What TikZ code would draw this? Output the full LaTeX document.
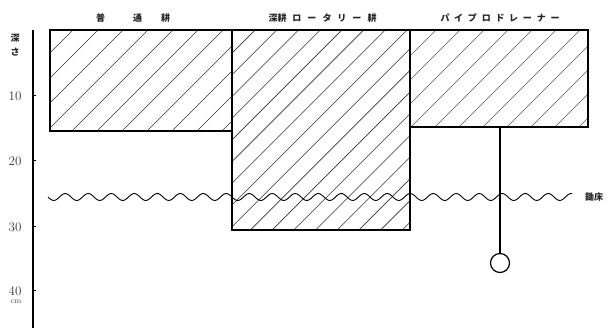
\documentclass[tikz,border=0pt]{standalone}
\usepackage{fontspec}
\newfontfamily\jp{Noto Sans CJK JP}
\begin{document}
\begin{tikzpicture}[x=1pt,y=-1pt,
  boxline/.style={line width=1.3pt},
  hatchline/.style={line width=0.6pt, draw=black!80},
  jplabel/.style={font=\jp\bfseries\fontsize{9}{9}\selectfont, inner sep=0pt, text=black!85},
  numlabel/.style={font=\fontsize{13}{13}\selectfont, inner sep=0pt, text=black!80},
  tick/.style={line width=1pt}]
\useasboundingbox (0,0) rectangle (608,328);
% hatching
\begin{scope}
  \clip (50,30) rectangle (232,131);
  \foreach \c in {3,28,...,1000} \draw[hatchline] (\c,0) -- ({\c-400},400);
\end{scope}
\begin{scope}
  \clip (232,30) rectangle (410,230);
  \foreach \c in {3,24.7,...,1000} \draw[hatchline] (\c,0) -- ({\c-400},400);
\end{scope}
\begin{scope}
  \clip (410,30) rectangle (588,127);
  \foreach \c in {10,34,...,1000} \draw[hatchline, draw=black!65] (\c,0) -- ({\c-400},400);
\end{scope}
% boxes
\draw[boxline] (50,30) rectangle (232,131);
\draw[boxline] (232,30) rectangle (410,230);
\draw[boxline] (410,30) rectangle (588,127);
% axis
\draw[line width=1.4pt] (33,30) -- (33,328);
\foreach \y/\t in {96/10,161/20,227/30,291/40} {
  \draw[tick] (33,\y) -- (36,\y);
  \node[numlabel] (lab\t) at (15,\y) {\t};
}
\node[font=\fontsize{8}{8}\selectfont, inner sep=0pt, text=black!70] (cm) at (16,302) {cm};
\node[jplabel] (fuka1) at (15,38) {深};
\node[jplabel] (fuka2) at (15,52) {さ};
% titles
\node[jplabel] (t1) at (133,18) {普\hspace{28pt}通\hspace{19pt}耕};
\node[jplabel] (t2) at (322.5,18) {深耕\hspace{6pt}ロ\hspace{6pt}ー\hspace{6pt}タ\hspace{6pt}リ\hspace{6pt}ー\hspace{6pt}耕};
\node[jplabel] (t3) at (500,18) {パ\hspace{4.75pt}イ\hspace{4.75pt}プ\hspace{4.75pt}ロ\hspace{4.75pt}ド\hspace{4.75pt}レ\hspace{4.75pt}ー\hspace{4.75pt}ナ\hspace{4.75pt}ー};
% plow pan wave
\draw[line width=0.9pt] plot[domain=48:572, samples=300, smooth] (\x, {197+3.5*sin((\x-48)*15.652)});
\node[jplabel, anchor=west] (suki) at (585,197) {鋤床};
% pipe drainer
\coordinate (pipetop) at (500,127);
\node[circle, draw, line width=1.2pt, minimum size=19pt, inner sep=0pt] (ball) at (500,263) {};
\draw[line width=1.1pt] (pipetop) -- (ball.north);
\end{tikzpicture}
\end{document}
